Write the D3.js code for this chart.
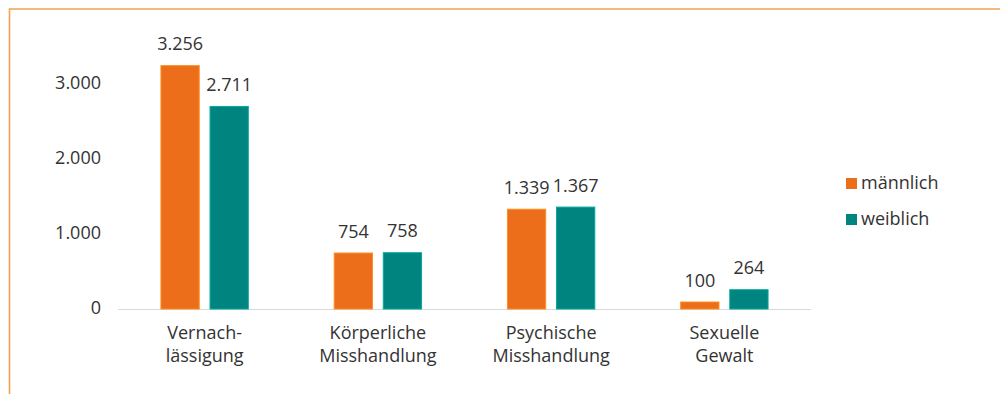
<!DOCTYPE html>
<html>
<head>
<meta charset="utf-8">
<script src="https://cdn.jsdelivr.net/npm/d3@7"></script>
<style>
  html, body { margin: 0; padding: 0; background: #fff; }
  svg text { font-family: "Open Sans", Lato, sans-serif; fill: #333; }
</style>
</head>
<body>
<svg id="chart" width="1002" height="394"></svg>
<script>
// Fälle nach Form der Kindeswohlgefährdung und Geschlecht
const categories = [["Vernach-", "lässigung"], ["Körperliche", "Misshandlung"], ["Psychische", "Misshandlung"], ["Sexuelle", "Gewalt"]];
const seriesNames = ["männlich", "weiblich"];
const maleValues = [3256, 754, 1339, 100];
const femaleValues = [2711, 758, 1367, 264];
const yTicks = [0, 1000, 2000, 3000];
const colors = ["#ec6e1b", "#00847f"];
const fontSize = "18px";

const svg = d3.select("#chart");
const fmt = d3.formatLocale({ decimal: ",", thousands: ".", grouping: [3], currency: ["", "€"] }).format(",d");

// Rahmen oben und links
svg.append("path")
  .attr("d", "M9.5,394 L9.5,9 L1000,9")
  .attr("fill", "none").attr("stroke", "#f2a254").attr("stroke-width", 1.6);

const x0 = d3.scaleBand().domain(d3.range(categories.length)).range([118, 811]).paddingInner(0.49).paddingOuter(0.245);
const x1 = d3.scaleBand().domain([0, 1]).range([0, x0.bandwidth()]).paddingInner(0.2);
const y = d3.scaleLinear().domain([0, 3000]).range([309, 84.3]);

// y-Achse
const yAxis = d3.axisLeft(y).tickValues(yTicks).tickFormat(fmt).tickSize(0).tickPadding(0);
const gy = svg.append("g").attr("transform", "translate(101,-1.5)").call(yAxis);
gy.select(".domain").remove();
gy.selectAll("text").style("font-size", fontSize).attr("fill", "#333");

// Grundlinie
svg.append("line").attr("x1", 118).attr("x2", 811).attr("y1", 309.5).attr("y2", 309.5)
  .attr("stroke", "#d9d9d9").attr("stroke-width", 1.2);

const data = categories.map((c, i) => ({ i, vals: [maleValues[i], femaleValues[i]] }));

const groups = svg.selectAll("g.cat").data(data).join("g")
  .attr("class", "cat")
  .attr("transform", d => `translate(${x0(d.i)},0)`);

groups.selectAll("rect").data(d => d.vals.map((v, s) => ({ v, s }))).join("rect")
  .attr("x", d => x1(d.s) + 0.5)
  .attr("width", x1.bandwidth() - 1)
  .attr("y", d => y(d.v) + 0.5)
  .attr("height", d => y(0) - y(d.v) - 0.5)
  .attr("fill", d => colors[d.s])
  .attr("stroke", d => d3.color(colors[d.s]).brighter(0.7))
  .attr("stroke-width", 1);

groups.selectAll("text.val").data(d => d.vals.map((v, s) => ({ v, s }))).join("text")
  .attr("class", "val")
  .attr("x", d => x1(d.s) + x1.bandwidth() / 2)
  .attr("y", d => y(d.v) - 15)
  .attr("text-anchor", "middle")
  .style("font-size", fontSize)
  .text(d => fmt(d.v));

// Kategorienbeschriftung (zweizeilig)
const xAxis = d3.axisBottom(x0).tickSize(0).tickFormat("");
const gx = svg.append("g").attr("transform", "translate(0,309)").call(xAxis);
gx.select(".domain").remove();
gx.selectAll(".tick").each(function(d) {
  const t = d3.select(this).append("text")
    .attr("text-anchor", "middle")
    .style("font-size", fontSize)
    .attr("fill", "#333");
  categories[d].forEach((line, k) => {
    t.append("tspan").attr("x", 0).attr("y", 30 + k * 23).text(line);
  });
});

// Legende
const legend = svg.append("g").attr("transform", "translate(846,0)");
seriesNames.forEach((name, s) => {
  const ly = 189 + s * 36;
  legend.append("rect").attr("x", 0).attr("y", ly - 11).attr("width", 11).attr("height", 11).attr("fill", colors[s]);
  legend.append("text").attr("x", 15).attr("y", ly).style("font-size", fontSize).text(name);
});
</script>
</body>
</html>
